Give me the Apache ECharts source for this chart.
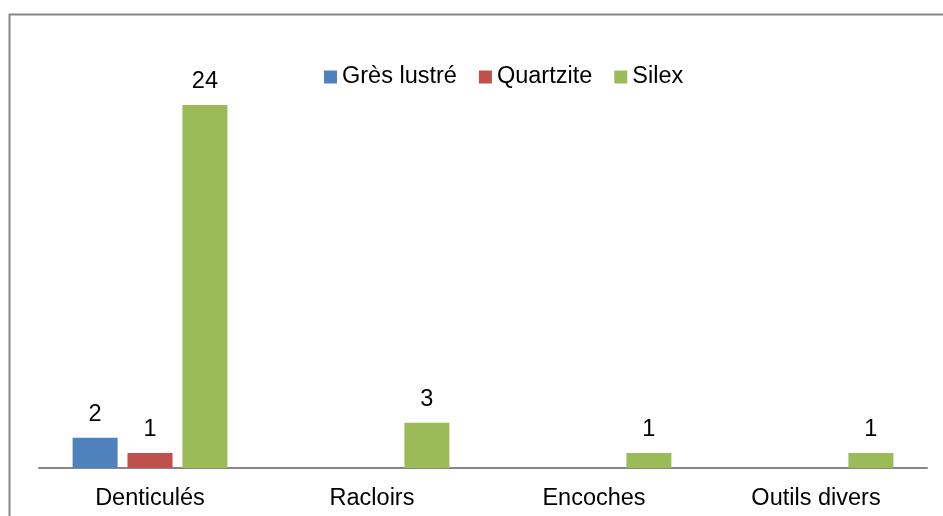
<!DOCTYPE html>
<html>
<head>
<meta charset="utf-8">
<script src="https://cdn.jsdelivr.net/npm/echarts@6/dist/echarts.min.js"></script>
<style>
  html, body { margin: 0; padding: 0; background: #fff; }
  #chart { width: 943px; height: 516px; }
</style>
</head>
<body>
<div id="chart"></div>
<script>
// Tool types and counts per raw material
const categories = ['Denticulés', 'Racloirs', 'Encoches', 'Outils divers'];
const gresLustre = [2, null, null, null];
const quartzite = [1, null, null, null];
const silex = [24, 3, 1, 1];

const FONT = '"Liberation Sans", Arial, sans-serif';
const SIZE = 23.5;

function barSeries(name, data, color) {
  return {
    name: name,
    type: 'bar',
    data: data,
    barWidth: 45,
    barGap: '22%',
    barCategoryGap: '30%',
    itemStyle: { color: color },
    label: {
      show: true,
      position: 'top',
      distance: 11,
      color: '#000',
      fontFamily: FONT,
      fontSize: SIZE
    }
  };
}

const chart = echarts.init(document.getElementById('chart'), null, { renderer: 'canvas' });
chart.setOption({
  animation: false,
  backgroundColor: '#fff',
  textStyle: { fontFamily: FONT },
  graphic: [{
    type: 'rect',
    shape: { x: 9.5, y: 14.5, width: 1000, height: 600 },
    style: { fill: 'none', stroke: '#878787', lineWidth: 2 },
    silent: true,
    z: -1
  }],
  legend: {
    left: 324,
    top: 65,
    padding: 0,
    itemWidth: 13,
    itemHeight: 13,
    itemGap: 22,
    icon: 'rect',
    textStyle: { fontFamily: FONT, fontSize: SIZE, color: '#000' },
    data: ['Grès lustré', 'Quartzite', 'Silex']
  },
  grid: { left: 39, right: 16, top: 105, bottom: 48, containLabel: false },
  xAxis: {
    type: 'category',
    data: categories,
    axisLine: { lineStyle: { color: '#878787', width: 2 } },
    axisTick: { show: false },
    axisLabel: { color: '#000', fontFamily: FONT, fontSize: SIZE, margin: 19 }
  },
  yAxis: {
    type: 'value',
    min: 0,
    max: 24,
    show: false,
    splitLine: { show: false }
  },
  series: [
    barSeries('Grès lustré', gresLustre, '#4F81BD'),
    barSeries('Quartzite', quartzite, '#C0504D'),
    barSeries('Silex', silex, '#9BBB59')
  ]
});
</script>
</body>
</html>
